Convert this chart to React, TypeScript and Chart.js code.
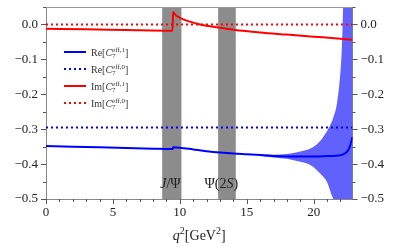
import React, { useEffect, useRef } from "react";
import { Chart, registerables } from "chart.js";

Chart.register(...registerables);

// ---------- data ----------
const qRe1 = [0, 2, 4, 6, 8, 9.45, 9.5, 10, 11, 12, 13, 14, 15, 16, 17, 18, 19, 20, 21, 21.7, 22.2, 22.5, 22.7, 22.85, 22.9];
const reC7eff1 = [-0.348, -0.35, -0.352, -0.354, -0.356, -0.357, -0.352, -0.353, -0.358, -0.363, -0.367, -0.37, -0.372, -0.374, -0.377, -0.378, -0.378, -0.378, -0.377, -0.376, -0.372, -0.364, -0.35, -0.33, -0.322];

const qIm1 = [0, 3, 6, 9.45, 9.5, 9.63, 10, 10.75, 11.5, 13, 14, 16, 18, 20, 22, 22.9];
const imC7eff1 = [-0.0125, -0.014, -0.016, -0.018, 0.036, 0.029, 0.019, 0.008, 0.0, -0.0095, -0.015, -0.023, -0.029, -0.035, -0.041, -0.044];

const qRange = [0, 22.9];
const reC7eff0 = [-0.295, -0.295];
const imC7eff0 = [0, 0];

const qBand = [16, 17, 18, 18.5, 19, 19.5, 20, 20.5, 21, 21.3, 21.5, 21.7, 21.9, 22.0, 22.1, 22.2, 22.3, 22.9];
const bandUpper = [-0.372, -0.373, -0.371, -0.368, -0.364, -0.359, -0.35, -0.333, -0.305, -0.283, -0.262, -0.235, -0.177, -0.135, -0.07, 0.05, 0.2, 0.5];
const bandLower = [-0.376, -0.381, -0.385, -0.389, -0.393, -0.398, -0.409, -0.428, -0.452, -0.484, -0.505, -0.54, -0.58, -0.62, -0.7, -0.75, -0.8, -1.0];

const resonanceBands = [
  [8.68, 10.12],
  [12.86, 14.18],
];
const resonanceLabels = ["J/Ψ", "Ψ(2S)"];
const resonanceLabelQ = [9.3, 13.1];

const xMajorTicks = [0, 5, 10, 15, 20];
const xMinorTicks = [1, 2, 3, 4, 6, 7, 8, 9, 11, 12, 13, 14, 16, 17, 18, 19, 21, 22];
const yMajorTicks = [-0.5, -0.4, -0.3, -0.2, -0.1, 0.0];
const yMinorTicks = [-0.45, -0.35, -0.25, -0.15, -0.05, 0.05];

const legendSup = ["eff,1", "eff,0", "eff,1", "eff,0"];
const legendPrefix = ["Re", "Re", "Im", "Im"];

// ---------- styles ----------
const BLUE = "#0000ff";
const RED = "#ff0000";
const FONT = "'Liberation Serif', 'DejaVu Serif', serif";
const GRAY_BAND = "#8c8c8c";
const TEXT = "#333333";

const pts = (xs: number[], ys: number[]) => xs.map((x, i) => ({ x, y: ys[i] }));

const fmtY = (v: number) => (v < -1e-9 ? "\u2212" : "") + Math.abs(v).toFixed(1);

function drawParts(
  ctx: CanvasRenderingContext2D,
  x: number,
  y: number,
  parts: { t: string; size: number; it?: boolean; dy?: number; stackWith?: { t: string; size: number; dy: number } }[],
  align: "left" | "center"
) {
  const setFont = (size: number, it?: boolean) => {
    ctx.font = `${it ? "italic " : ""}${size}px ${FONT}`;
  };
  let total = 0;
  const widths: number[] = [];
  for (const p of parts) {
    setFont(p.size, p.it);
    let w = ctx.measureText(p.t).width;
    if (p.stackWith) {
      setFont(p.stackWith.size);
      w = Math.max(w, ctx.measureText(p.stackWith.t).width);
    }
    widths.push(w);
    total += w;
  }
  let cx = align === "center" ? x - total / 2 : x;
  ctx.textBaseline = "alphabetic";
  ctx.textAlign = "left";
  parts.forEach((p, i) => {
    setFont(p.size, p.it);
    ctx.fillText(p.t, cx, y + (p.dy || 0));
    if (p.stackWith) {
      setFont(p.stackWith.size);
      ctx.fillText(p.stackWith.t, cx, y + p.stackWith.dy);
    }
    cx += widths[i];
  });
}

const decorPlugin = {
  id: "decor",
  beforeDatasetsDraw(chart: any) {
    const { ctx, chartArea, scales } = chart;
    const xs = scales.x;
    ctx.save();
    ctx.beginPath();
    ctx.rect(chartArea.left, chartArea.top, chartArea.right - chartArea.left, chartArea.bottom - chartArea.top);
    ctx.clip();
    ctx.fillStyle = GRAY_BAND;
    for (const [a, b] of resonanceBands) {
      const x1 = xs.getPixelForValue(a);
      const x2 = xs.getPixelForValue(b);
      ctx.fillRect(x1, chartArea.top, x2 - x1, chartArea.bottom - chartArea.top);
    }
    ctx.restore();
  },
  afterDraw(chart: any) {
    const { ctx, chartArea, scales } = chart;
    const xs = scales.x;
    const ys = scales.y;
    ctx.save();
    // top spine
    ctx.strokeStyle = "#999";
    ctx.lineWidth = 1;
    ctx.beginPath();
    ctx.moveTo(chartArea.left, Math.round(chartArea.top) + 0.5);
    ctx.lineTo(chartArea.right, Math.round(chartArea.top) + 0.5);
    ctx.stroke();

    // ticks
    ctx.strokeStyle = "#555";
    const L = chartArea.left;
    const R = chartArea.right;
    const B = chartArea.bottom;
    const tick = (x1: number, y1: number, x2: number, y2: number) => {
      ctx.beginPath();
      ctx.moveTo(x1, y1);
      ctx.lineTo(x2, y2);
      ctx.stroke();
    };
    for (const v of yMajorTicks) {
      const p = Math.round(ys.getPixelForValue(v)) + 0.5;
      tick(L - 5, p, L, p);
      tick(R, p, R + 5, p);
    }
    for (const v of yMinorTicks) {
      const p = Math.round(ys.getPixelForValue(v)) + 0.5;
      tick(L - 3, p, L, p);
      tick(R, p, R + 3, p);
    }
    for (const v of xMajorTicks) {
      const p = Math.round(xs.getPixelForValue(v)) + 0.5;
      tick(p, B, p, B + 5);
    }
    for (const v of xMinorTicks) {
      const p = Math.round(xs.getPixelForValue(v)) + 0.5;
      tick(p, B, p, B + 3);
    }

    // legend
    const rows = [52, 69, 86, 103];
    const colors = [BLUE, BLUE, RED, RED];
    const dashed = [false, true, false, true];
    rows.forEach((ry, i) => {
      ctx.strokeStyle = colors[i];
      ctx.lineWidth = 2;
      ctx.setLineDash(dashed[i] ? [2, 3] : []);
      ctx.beginPath();
      ctx.moveTo(64, ry);
      ctx.lineTo(86, ry);
      ctx.stroke();
      ctx.setLineDash([]);
      ctx.fillStyle = TEXT;
      drawParts(
        ctx,
        91,
        ry + 3.5,
        [
          { t: legendPrefix[i] + "[", size: 10 },
          { t: "C", size: 10, it: true },
          { t: "7", size: 7, dy: 2.5, stackWith: { t: legendSup[i], size: 7, dy: -4 } },
          { t: "]", size: 10 },
        ],
        "left"
      );
    });

    // resonance labels
    ctx.fillStyle = "#222";
    const labY = 188;
    drawParts(
      ctx,
      xs.getPixelForValue(resonanceLabelQ[0]),
      labY,
      [
        { t: resonanceLabels[0].slice(0, 1), size: 14, it: true },
        { t: resonanceLabels[0].slice(1), size: 14 },
      ],
      "center"
    );
    drawParts(
      ctx,
      xs.getPixelForValue(resonanceLabelQ[1]),
      labY,
      [
        { t: resonanceLabels[1].slice(0, 3), size: 14 },
        { t: resonanceLabels[1].slice(3, 4), size: 14, it: true },
        { t: resonanceLabels[1].slice(4), size: 14 },
      ],
      "center"
    );

    // x title
    ctx.fillStyle = "#222";
    drawParts(
      ctx,
      (L + R) / 2,
      240,
      [
        { t: "q", size: 14, it: true },
        { t: "2", size: 10, dy: -6 },
        { t: "[GeV", size: 14 },
        { t: "2", size: 10, dy: -6 },
        { t: "]", size: 14 },
      ],
      "center"
    );
    ctx.restore();
  },
};

export default function App() {
  const ref = useRef<HTMLCanvasElement | null>(null);
  useEffect(() => {
    if (!ref.current) return;
    const tickFont = { family: FONT, size: 13 };
    const yScale = (position: "left" | "right", width: number) => ({
      type: "linear" as const,
      position,
      min: -0.5,
      max: 0.05,
      afterBuildTicks: (s: any) => {
        s.ticks = yMajorTicks.map((v) => ({ value: v }));
      },
      afterFit: (s: any) => {
        s.width = width;
        s.paddingTop = 0;
        s.paddingBottom = 0;
      },
      ticks: {
        font: tickFont,
        color: "#222",
        padding: 8,
        callback: (v: any) => fmtY(Number(v)),
      },
      grid: { display: true, drawOnChartArea: false, drawTicks: false },
      border: { display: true, color: "#888" },
    });
    const chart = new Chart(ref.current, {
      type: "line",
      data: {
        datasets: [
          {
            label: "Im[C7eff,1]",
            data: pts(qIm1, imC7eff1),
            borderColor: RED,
            borderWidth: 2,
            pointRadius: 0,
            cubicInterpolationMode: "monotone",
            fill: false,
          },
          {
            label: "Im[C7eff,0]",
            data: pts(qRange, imC7eff0),
            borderColor: RED,
            borderWidth: 2,
            borderDash: [2, 3],
            pointRadius: 0,
            fill: false,
          },
          {
            label: "Re[C7eff,1]",
            data: pts(qRe1, reC7eff1),
            borderColor: BLUE,
            borderWidth: 2,
            pointRadius: 0,
            cubicInterpolationMode: "monotone",
            fill: false,
          },
          {
            label: "Re[C7eff,0]",
            data: pts(qRange, reC7eff0),
            borderColor: BLUE,
            borderWidth: 2,
            borderDash: [2, 3],
            pointRadius: 0,
            fill: false,
          },
          {
            label: "band upper",
            data: pts(qBand, bandUpper),
            borderWidth: 0,
            borderColor: "rgba(0,0,0,0)",
            pointRadius: 0,
            cubicInterpolationMode: "monotone",
            fill: false,
          },
          {
            label: "band lower",
            data: pts(qBand, bandLower),
            borderWidth: 0,
            borderColor: "rgba(0,0,0,0)",
            backgroundColor: "rgba(0,0,250,0.62)",
            pointRadius: 0,
            cubicInterpolationMode: "monotone",
            fill: "-1",
          },
        ],
      },
      options: {
        animation: false,
        responsive: false,
        maintainAspectRatio: false,
        layout: { padding: { top: 7, left: 0, right: 0, bottom: 0 } },
        plugins: {
          legend: { display: false },
          tooltip: { enabled: false },
        },
        scales: {
          x: {
            type: "linear",
            min: qRange[0],
            max: qRange[1],
            afterBuildTicks: (s: any) => {
              s.ticks = xMajorTicks.map((v) => ({ value: v }));
            },
            afterFit: (s: any) => {
              s.height = 48;
              s.paddingLeft = 0;
              s.paddingRight = 0;
            },
            ticks: {
              font: tickFont,
              color: "#222",
              padding: 6,
              maxRotation: 0,
              callback: (v: any) => String(v),
            },
            grid: { display: true, drawOnChartArea: false, drawTicks: false },
            border: { display: true, color: "#888" },
          },
          y: yScale("left", 46),
          y2: yScale("right", 46.5),
        },
      } as any,
      plugins: [decorPlugin],
    });
    return () => chart.destroy();
  }, []);
  return (
    <div style={{ position: "absolute", left: 0, top: 0, width: 399, height: 247 }}>
      <canvas ref={ref} width={399} height={247} style={{ width: 399, height: 247, display: "block" }} />
    </div>
  );
}
